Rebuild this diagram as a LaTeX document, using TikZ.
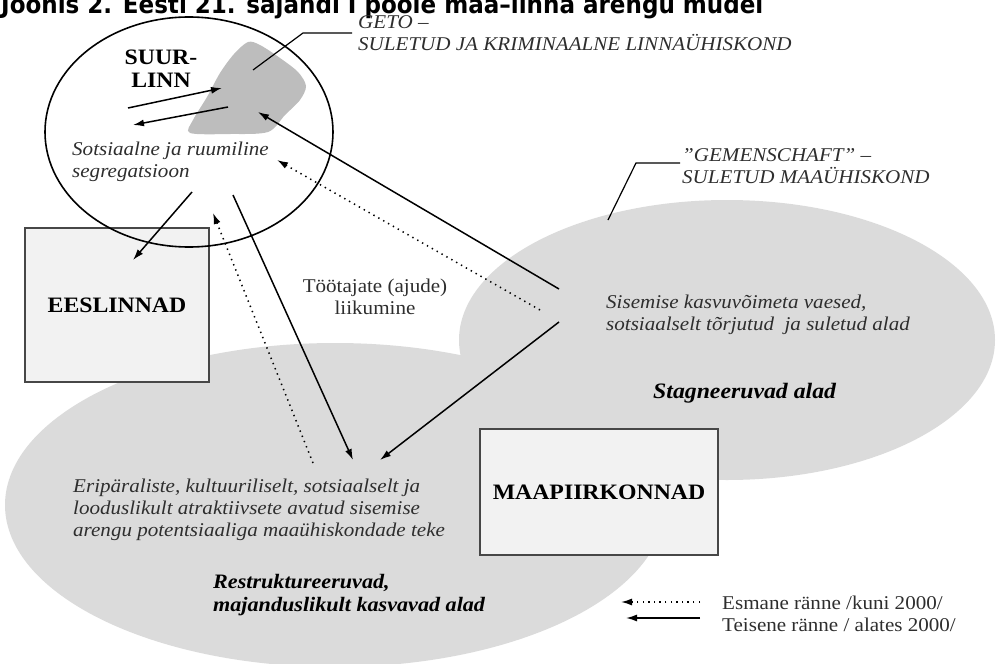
\documentclass[tikz,border=0pt]{standalone}
\usepackage{fontspec}
\setmainfont{Liberation Serif}[FakeStretch=1.08]
\newfontfamily\titlefont{DejaVu Sans}
\usetikzlibrary{arrows.meta,shapes.geometric}
\definecolor{regiongray}{gray}{0.86}
\definecolor{blobgray}{gray}{0.74}
\definecolor{boxfill}{gray}{0.95}
\definecolor{boxline}{gray}{0.28}
\definecolor{txt}{gray}{0.18}
\begin{document}
\begin{tikzpicture}[x=1pt,y=-1pt,
  arr/.style={line width=1.5pt,-{Latex[length=11pt,width=7pt]}},
  dotarr/.style={arr,dash pattern=on 1.4pt off 4.2pt},
  leader/.style={line width=1.2pt},
  regbox/.style={draw=boxline,line width=2pt,fill=boxfill,inner sep=0,
    font=\fontsize{22}{24}\selectfont\bfseries},
  itlabel/.style={font=\fontsize{19.5}{22}\selectfont\itshape,text=txt,inner sep=0,align=left,anchor=north west},
  bilabel/.style={font=\fontsize{20.5}{23}\selectfont\bfseries\itshape,inner sep=0,align=left,anchor=north west},
  rmlabel/.style={font=\fontsize{19.5}{21.5}\selectfont,text=txt,inner sep=0}
]
\useasboundingbox (0,0) rectangle (997,664);
\clip (0,0) rectangle (997,664);

% grey regions
\fill[regiongray] (335,505) ellipse [x radius=330, y radius=162];
\fill[regiongray] (727,340) ellipse [x radius=268, y radius=140];

% geto blob
\fill[blobgray] plot[smooth cycle, tension=0.5] coordinates {(190,133) (193,120) (207,97) (220,73) (234,54) (248,42) (260,45) (280,58) (298,72) (306,86) (300,100) (285,115) (268,132) (230,134)};

% boxes
\node[regbox, minimum width=184pt, minimum height=154pt] (ees) at (117,305) {EESLINNAD};
\node[regbox, minimum width=238pt, minimum height=126pt] (maa) at (599,492) {MAAPIIRKONNAD};

% big city ellipse
\node[draw, ellipse, line width=1.6pt, minimum width=288pt, minimum height=230pt, inner sep=0] (suurlinn) at (189,132) {};

% title (cut at the top, as in the reference)
\node[anchor=base west, inner sep=0] (title) at (1,13.5) {\resizebox{762pt}{19pt}{\titlefont\bfseries Joonis 2. Eesti 21. sajandi I poole maa–linna arengu mudel}};

% texts
\node[font=\fontsize{22}{23}\selectfont\bfseries, align=center, anchor=north, inner sep=0] (suur) at (161,50) {SUUR-\\LINN};
\node[itlabel] (segr) at (72,142) {Sotsiaalne ja ruumiline\\segregatsioon};
\node[itlabel] (geto) at (358,15) {GETO –\\SULETUD JA KRIMINAALNE LINNAÜHISKOND};
\node[itlabel] (gem) at (682,148) {\symbol{"22}GEMENSCHAFT\symbol{"22} –\\SULETUD MAAÜHISKOND};
\node[itlabel] (sis) at (606,295) {Sisemise kasvuvõimeta vaesed,\\sotsiaalselt tõrjutud\ \ ja suletud alad};
\node[itlabel] (eri) at (73,479) {Eripäraliste, kultuuriliselt, sotsiaalselt ja\\looduslikult atraktiivsete avatud sisemise\\arengu potentsiaaliga maaühiskondade teke};
\node[bilabel] (restr) at (213,574) {Restruktureeruvad,\\majanduslikult kasvavad alad};
\node[font=\fontsize{22}{24}\selectfont\bfseries\itshape, anchor=base west, inner sep=0] (stag) at (653,398) {Stagneeruvad alad};
\node[rmlabel, align=center, anchor=north] (tootajad) at (375,279) {Töötajate (ajude)\\liikumine};
\node[rmlabel, align=left, anchor=north west] (legend) at (722,596) {Esmane ränne /kuni 2000/\\Teisene ränne / alates 2000/};

% leader lines
\coordinate (getoP) at (253,70);
\coordinate (getoK) at (303,33);
\coordinate (getoE) at (352,33);
\draw[leader] (getoP) -- (getoK) -- (getoE);
\coordinate (gemP) at (608,220);
\coordinate (gemK) at (636,163);
\coordinate (gemE) at (680,163);
\draw[leader] (gemP) -- (gemK) -- (gemE);

% arrow end points
\coordinate (a1s) at (128,108); \coordinate (a1e) at (222,88);
\coordinate (a2s) at (228,107); \coordinate (a2e) at (133,125);
\coordinate (a3s) at (192,192); \coordinate (a3e) at (133,260);
\coordinate (a4s) at (233,195); \coordinate (a4e) at (353,460);
\coordinate (a5s) at (313,463); \coordinate (a5e) at (213,213);
\coordinate (a6s) at (559,322); \coordinate (a6e) at (380,460);
\coordinate (a7s) at (559,289); \coordinate (a7e) at (258,112);
\coordinate (a8s) at (540,310); \coordinate (a8e) at (277,160);

\draw[arr] (a1s) -- (a1e);
\draw[arr] (a2s) -- (a2e);
\draw[arr] (a3s) -- (a3e);
\draw[arr] (a4s) -- (a4e);
\draw[dotarr] (a5s) -- (a5e);
\draw[arr] (a6s) -- (a6e);
\draw[arr] (a7s) -- (a7e);
\draw[dotarr] (a8s) -- (a8e);

% legend arrows
\coordinate (l1s) at (700,602); \coordinate (l1e) at (621,602);
\coordinate (l2s) at (700,618); \coordinate (l2e) at (626,618);
\draw[dotarr] (l1s) -- (l1e);
\draw[arr] (l2s) -- (l2e);
\end{tikzpicture}
\end{document}
